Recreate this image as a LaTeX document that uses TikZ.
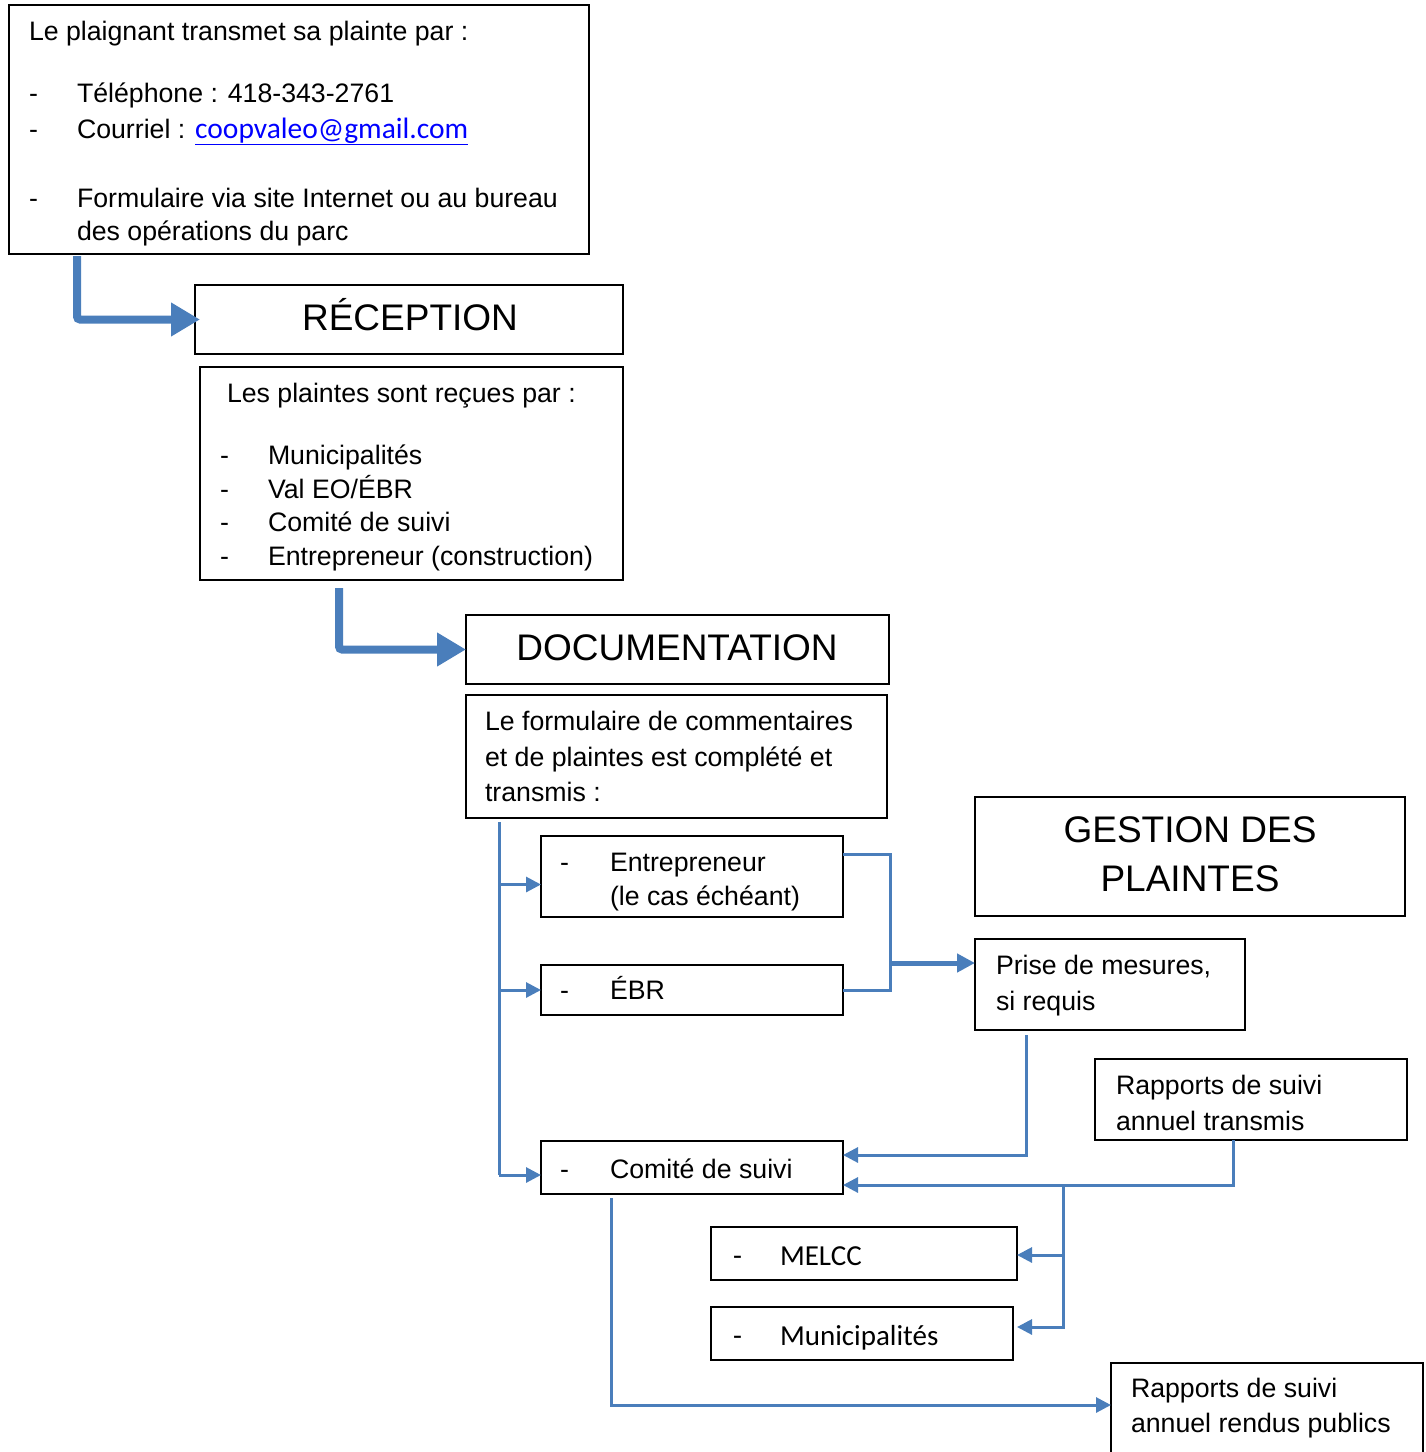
\documentclass[tikz,border=0pt]{standalone}
\usepackage{fontspec}
\setmainfont{Liberation Sans}
\newfontfamily\calfont{Carlito}
\usetikzlibrary{arrows.meta}
\definecolor{lineblue}{HTML}{4A7EBB}
\definecolor{linkblue}{HTML}{0000FF}
\tikzset{
  box/.style={draw=black, line width=1.3pt, inner sep=0pt, outer sep=0pt, anchor=north west},
  txt/.style={inner sep=0pt, outer sep=0pt, anchor=base west, font=\fontsize{26.7}{36}\selectfont},
  ttl/.style={inner sep=0pt, outer sep=0pt, anchor=base, font=\fontsize{37}{49}\selectfont},
  caltxt/.style={inner sep=0pt, outer sep=0pt, anchor=base west, font=\calfont\fontsize{29}{36}\selectfont},
  bigarrow/.style={draw=lineblue, line width=8pt, rounded corners=3pt, -{Triangle[length=29pt,width=32pt]}},
  midarrow/.style={draw=lineblue, line width=5pt, -{Triangle[length=18pt,width=18pt]}},
  thinarrow/.style={draw=lineblue, line width=3pt, -{Triangle[length=15pt,width=15pt]}},
  thinline/.style={draw=lineblue, line width=3pt},
}
\begin{document}
\begin{tikzpicture}[x=1pt, y=-1pt]
\useasboundingbox (0,0) rectangle (1426,1452);

% top box
\node[box, minimum width=580pt, minimum height=249pt] (src) at (9,5) {};
\node[txt] (s1) at (29,40) {Le plaignant transmet sa plainte par :};
\node[txt] (s2d) at (29,102) {-};
\node[txt] (s2) at (77,102) {Téléphone : 418-343-2761};
\node[txt] (s3d) at (29,138) {-};
\node[txt] (s3) at (77,138) {Courriel : {\calfont\fontsize{29.5}{36}\selectfont\color{linkblue}\underline{coopvaleo@gmail.com}}};
\node[txt] (s4d) at (29,207) {-};
\node[txt] (s4) at (77,207) {Formulaire via site Internet ou au bureau};
\node[txt] (s5) at (77,240) {des opérations du parc};

% reception
\node[box, minimum width=428pt, minimum height=69pt] (rec) at (195,285) {};
\node[ttl] (rect) at (410,330) {RÉCEPTION};
\node[box, minimum width=423pt, minimum height=213pt] (recl) at (200,367) {};
\node[txt] (r1) at (227,402) {Les plaintes sont reçues par :};
\node[txt] (r2d) at (220,464) {-};
\node[txt] (r2) at (268,464) {Municipalités};
\node[txt] (r3d) at (220,498) {-};
\node[txt] (r3) at (268,498) {Val EO/ÉBR};
\node[txt] (r4d) at (220,531) {-};
\node[txt] (r4) at (268,531) {Comité de suivi};
\node[txt] (r5d) at (220,565) {-};
\node[txt] (r5) at (268,565) {Entrepreneur (construction)};

% documentation
\node[box, minimum width=423pt, minimum height=69pt] (doc) at (466,615) {};
\node[ttl] (doct) at (677,660) {DOCUMENTATION};
\node[box, minimum width=421pt, minimum height=123pt] (doctx) at (466,695) {};
\node[txt] (d1) at (485,730) {Le formulaire de commentaires};
\node[txt] (d2) at (485,766) {et de plaintes est complété et};
\node[txt] (d3) at (485,801) {transmis :};

\node[box, minimum width=302pt, minimum height=81pt] (ent) at (541,836) {};
\node[txt] (e1d) at (560,871) {-};
\node[txt] (e1) at (610,871) {Entrepreneur};
\node[txt] (e2) at (610,905) {(le cas échéant)};

\node[box, minimum width=302pt, minimum height=50pt] (ebr) at (541,965) {};
\node[txt] (b1d) at (560,999) {-};
\node[txt] (b1) at (610,999) {ÉBR};

\node[box, minimum width=302pt, minimum height=53pt] (com) at (541,1141) {};
\node[txt] (c1d) at (560,1178) {-};
\node[txt] (c1) at (610,1178) {Comité de suivi};

% gestion
\node[box, minimum width=430pt, minimum height=119pt] (ges) at (975,797) {};
\node[ttl] (g1) at (1190,842) {GESTION DES};
\node[ttl] (g2) at (1190,891) {PLAINTES};

\node[box, minimum width=270pt, minimum height=91pt] (pri) at (975,939) {};
\node[txt] (p1) at (996,974) {Prise de mesures,};
\node[txt] (p2) at (996,1010) {si requis};

\node[box, minimum width=312pt, minimum height=81pt] (rtr) at (1095,1059) {};
\node[txt] (t1) at (1116,1094) {Rapports de suivi};
\node[txt] (t2) at (1116,1130) {annuel transmis};

\node[box, minimum width=306pt, minimum height=53pt] (mel) at (711,1227) {};
\node[caltxt] (m1d) at (733,1265) {-};
\node[caltxt] (m1) at (780,1265) {MELCC};

\node[box, minimum width=302pt, minimum height=53pt] (mun) at (711,1307) {};
\node[caltxt] (u1d) at (733,1345) {-};
\node[caltxt] (u1) at (780,1345) {Municipalités};

\node[box, minimum width=312pt, minimum height=100pt] (pub) at (1111,1363) {};
\node[txt] (q1) at (1131,1397) {Rapports de suivi};
\node[txt] (q2) at (1131,1432) {annuel rendus publics};

% thick arrows
\draw[bigarrow] ([xshift=68pt,yshift=-2pt]src.south west) |- ([xshift=5pt]rec.west);
\draw[bigarrow] ([xshift=139pt,yshift=-8pt]recl.south west) |- (doc.west);

% spine from documentation text
\coordinate (spine) at ([xshift=33pt,yshift=-4pt]doctx.south west);
\coordinate (eIn) at ([yshift=-8pt]ent.west);
\coordinate (bIn) at (ebr.west);
\coordinate (cIn) at ([yshift=-7.5pt]com.west);
\draw[thinline] (spine) -- (spine |- cIn);
\draw[thinarrow] (spine |- eIn) -- (eIn);
\draw[thinarrow] (spine |- bIn) -- (bIn);
\draw[thinarrow] (spine |- cIn) -- (cIn);

% merge to prise
\coordinate (eOut) at ([yshift=22.5pt]ent.east);
\coordinate (jx) at ([xshift=47pt]eOut);
\coordinate (pIn) at ([yshift=21.5pt]pri.west);
\draw[thinline] (eOut) -- (jx) |- (ebr.east);
\draw[midarrow] (jx |- pIn) -- (pIn);

% prise -> comite
\coordinate (cIn1) at ([yshift=12.5pt]com.east);
\coordinate (cIn2) at ([yshift=-17.5pt]com.east);
\draw[thinarrow] ([xshift=51pt,yshift=-5pt]pri.south west) |- (cIn1);
\draw[thinarrow] ([xshift=138pt]rtr.south west) |- (cIn2);

% branch to MELCC and Municipalites
\coordinate (br) at ([xshift=220pt]cIn2);
\coordinate (melIn) at ([yshift=-1.5pt]mel.east);
\coordinate (munIn) at ([xshift=4pt,yshift=6.5pt]mun.east);
\draw[thinarrow] (br) |- (melIn);
\draw[thinarrow] (br) |- (munIn);

% comite -> public
\coordinate (pubIn) at ([yshift=8pt]pub.west);
\draw[thinarrow] ([xshift=70pt,yshift=-4pt]com.south west) |- (pubIn);
\end{tikzpicture}
\end{document}
